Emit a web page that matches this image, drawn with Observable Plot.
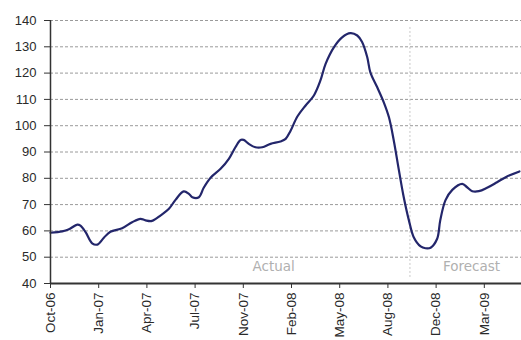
<!DOCTYPE html>
<html>
<head>
<meta charset="utf-8">
<script src="https://cdn.jsdelivr.net/npm/d3@7"></script>
<script src="https://cdn.jsdelivr.net/npm/@observablehq/plot@0.6"></script>
<style>
  html, body { margin: 0; padding: 0; background: #fff; }
  #chart svg { display: block; }
</style>
</head>
<body>
<div id="chart"></div>
<script>
// Weekly index (week 0 = early Oct 2006) and index value
const weeks = [0, 3.4, 5.2, 7.8, 8.7, 10.2, 12.1, 13.6, 15.5, 17.4, 20.8, 23.7, 26.1, 27.6, 29.5, 32, 34.4, 36.3,
  38.7, 40.2, 41.2, 43.1, 44.5, 46.5, 49.4, 51.8, 53.7, 55.2, 56.1, 57.6, 59.5, 61.5, 63.9, 66.8, 68.3, 69.7,
  71.7, 74.1, 76.5, 78.4, 79.9, 82.3, 84.7, 87.1, 89.1, 90.5, 92, 92.9, 94.9, 96.8, 98.3, 99.7, 101.2, 102.6,
  104.1, 105.5, 107.5, 108.9, 110.4, 112.3, 113.2, 114.7, 116.7, 119.6, 121, 122.5, 124.4, 126.8, 129.7, 132.6, 136.2];
const values = [59.3, 59.8, 60.5, 62.4, 62, 59.5, 55.3, 54.8, 57.4, 59.7, 61, 63.3, 64.6, 64, 63.8, 65.9, 68.4, 71.8,
  75, 74.1, 72.8, 72.8, 76.4, 80.2, 83.6, 87.4, 91.8, 94.6, 94.6, 93.1, 91.8, 91.8, 93.1, 94, 95, 98,
  103.5, 107.7, 111.5, 117.2, 123.5, 129.8, 133.6, 135.2, 134.3, 131.8, 126, 120.3, 114.6, 108.9, 103.2, 94.4, 83, 72.8,
  64, 57.6, 54.1, 53.4, 53.6, 57, 64, 71.6, 75.6, 77.9, 76.6, 75.1, 75.1, 76.4, 78.5, 80.7, 82.6];

// Category axis: a label every 14 weeks
const tickWeeks = [0, 14, 28, 42, 56, 70, 84, 98, 112, 126];
const tickLabels = ["Oct-06", "Jan-07", "Apr-07", "Jul-07", "Nov-07", "Feb-08", "May-08", "Aug-08", "Dec-08", "Mar-09"];
const yTicks = [40, 50, 60, 70, 80, 90, 100, 110, 120, 130, 140];
const gridValues = [50, 60, 70, 80, 90, 100, 110, 120, 130, 140];

// Actual / forecast split annotation
const splitWeek = [104.4];
const splitRange = [42.3, 138];
const noteWeeks = [64.8, 122.3];
const noteTexts = ["Actual", "Forecast"];
const noteLevel = 46.5;

const data = weeks.map((w, i) => ({week: w, value: values[i]}));
const notes = noteWeeks.map((w, i) => ({week: w, value: noteLevel, text: noteTexts[i]}));
const labelByWeek = new Map(tickWeeks.map((w, i) => [w, tickLabels[i]]));

const chart = Plot.plot({
  width: 521,
  height: 340,
  marginLeft: 50,
  marginRight: 0,
  marginTop: 20,
  marginBottom: 57,
  style: {fontFamily: "'Liberation Sans', Arial, sans-serif", fontSize: "13px", color: "#2a2a2a", background: "#fff"},
  x: {domain: [0, 136.8], label: null},
  y: {domain: [40, 140], label: null},
  marks: [
    Plot.ruleY(gridValues, {stroke: "#9a9a9a", strokeDasharray: "3,2", strokeWidth: 1}),
    Plot.ruleX(splitWeek, {y1: splitRange[0], y2: splitRange[1], stroke: "#c8c8c8", strokeDasharray: "2,2", strokeWidth: 1}),
    Plot.text(notes, {x: "week", y: "value", text: "text", fill: "#b0b0b0", fontSize: 13.5,
      fontFamily: "'DejaVu Sans', Verdana, sans-serif", textAnchor: "middle", lineAnchor: "middle"}),
    Plot.line(data, {x: "week", y: "value", stroke: "#23266b", strokeWidth: 2.2, curve: "catmull-rom"}),
    Plot.axisY(yTicks, {tickSize: 6, tickPadding: 8, fontSize: 13, stroke: "#333", label: null}),
    Plot.axisX(tickWeeks, {tickSize: 5, tickPadding: 4, tickRotate: -90, fontSize: 13.5, label: null,
      tickFormat: d => labelByWeek.get(d), stroke: "#333"}),
    Plot.ruleX([0], {stroke: "#333", strokeWidth: 1.5}),
    Plot.ruleY([40], {stroke: "#333", strokeWidth: 2})
  ]
});
document.getElementById("chart").appendChild(chart);
</script>
</body>
</html>
